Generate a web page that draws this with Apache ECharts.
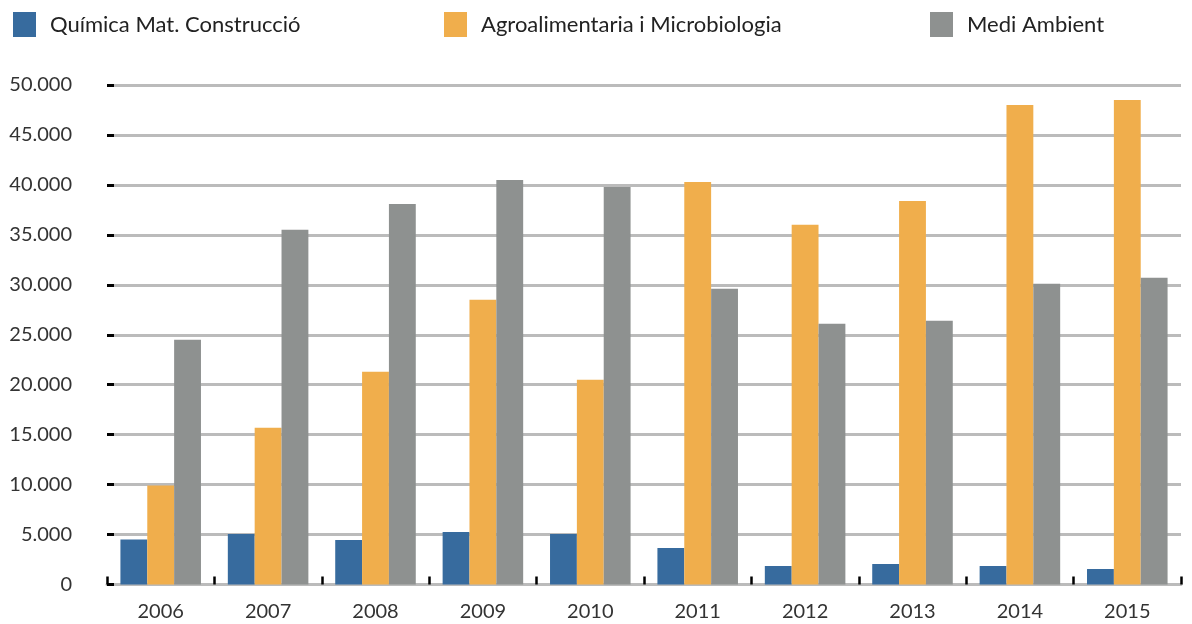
<!DOCTYPE html>
<html style="height: 100%">
<head>
<meta charset="utf-8">
<script type="text/javascript" src="https://cdn.jsdelivr.net/npm/echarts@6/dist/echarts.min.js"></script>
</head>
<body style="height: 100%; margin: 0">
<div id="container" style="width: 1192px; height: 624px"></div>
<script type="text/javascript">
    var years = ['2006', '2007', '2008', '2009', '2010', '2011', '2012', '2013', '2014', '2015'];
    var seriesNames = ['Química Mat. Construcció', 'Agroalimentaria i Microbiologia', 'Medi Ambient'];
    var quimica = [4500, 5050, 4450, 5250, 5050, 3650, 1850, 2050, 1850, 1550];
    var agro = [9900, 15700, 21300, 28500, 20500, 40300, 36000, 38400, 48000, 48500];
    var medi = [24500, 35500, 38100, 40500, 39800, 29600, 26100, 26400, 30100, 30700];
    var colors = ['#376b9e', '#f0ae4c', '#8e9190'];

    var myChart = echarts.init(document.getElementById('container'));
    var font = 'Lato, "Open Sans", sans-serif';

    function fmt(v) {
        return String(v).replace(/\B(?=(\d{3})+(?!\d))/g, '.');
    }

    var legendLefts = [13, 444, 930];
    var legends = seriesNames.map(function (name, i) {
        return {
            data: [name],
            left: legendLefts[i],
            top: 12,
            padding: 0,
            itemWidth: 23,
            itemHeight: 25,
            itemGap: 0,
            icon: 'rect',
            selectedMode: false,
            textStyle: { fontFamily: font, fontSize: 22, color: '#222', padding: [0, 0, 0, 9] }
        };
    });

    var data = [quimica, agro, medi];
    var option = {
        animation: false,
        color: colors,
        legend: legends,
        grid: { left: 107, right: 11, top: 85, bottom: 39.5 },
        xAxis: {
            type: 'category',
            data: years,
            axisLine: { show: true, lineStyle: { color: '#bbb', width: 3 } },
            axisTick: { show: true, length: 8, inside: true, lineStyle: { color: '#000', width: 2.5 } },
            axisLabel: { fontFamily: font, fontSize: 20, color: '#333', margin: 17 }
        },
        yAxis: {
            type: 'value',
            min: 0,
            max: 50000,
            interval: 5000,
            axisLine: { show: false },
            axisTick: { show: true, inside: true, length: 7, lineStyle: { color: '#000', width: 3 } },
            splitLine: { lineStyle: { color: '#bbb', width: 3 } },
            axisLabel: { fontFamily: font, fontSize: 20, color: '#333', margin: 35, formatter: fmt }
        },
        series: seriesNames.map(function (name, i) {
            return {
                name: name,
                type: 'bar',
                data: data[i],
                barGap: '0%',
                barCategoryGap: '25%',
                itemStyle: { color: colors[i] }
            };
        })
    };
    myChart.setOption(option);
</script>
</body>
</html>
